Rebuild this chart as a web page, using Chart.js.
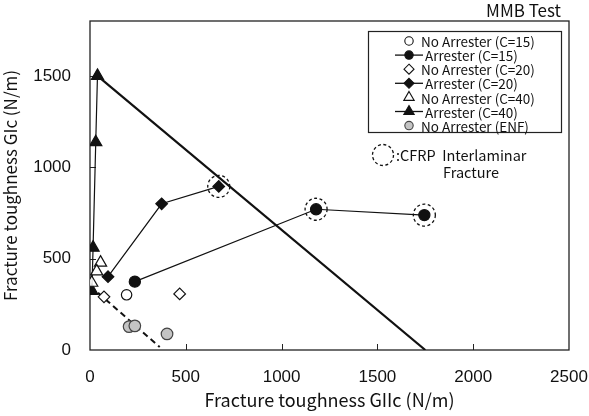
<!DOCTYPE html>
<html>
<head>
<meta charset="utf-8">
<script src="https://cdn.jsdelivr.net/npm/chart.js@4/dist/chart.umd.min.js"></script>
<style>
  html, body { margin: 0; padding: 0; background: #fff; }
  #wrap { width: 589px; height: 416px; position: relative; }
</style>
</head>
<body>
<div id="wrap"><canvas id="c" width="589" height="416"></canvas></div>
<script>
// Mode I (GIc) vs mode II (GIIc) fracture toughness, MMB tests
const noArr15X = [191];
const noArr15Y = [302];
const arr15X = [234, 1180, 1745];
const arr15Y = [374, 770, 738];
const noArr20X = [73, 468];
const noArr20Y = [291, 307];
const arr20X = [94, 374, 672];
const arr20Y = [401, 800, 895];
const noArr40X = [55, 35, 9];
const noArr40Y = [478, 430, 368];
const arr40X = [10, 16, 30, 39];
const arr40Y = [324, 560, 1137, 1500];
const enfX = [204, 234, 402];
const enfY = [128, 132, 88];
// straight criterion lines
const critX = [39, 1750];
const critY = [1500, 0];
const enfFitX = [42, 364];
const enfFitY = [313, 16];
// points that failed by CFRP interlaminar fracture
const cfrpX = [672, 1180, 1745];
const cfrpY = [895, 770, 738];

const xTicks = [0, 500, 1000, 1500, 2000, 2500];
const yTicks = [0, 500, 1000, 1500];

const pts = (xs, ys) => xs.map((x, i) => ({ x, y: ys[i] }));

const JP = '"Noto Sans CJK JP", "Noto Sans", sans-serif';
const LAT = '"Liberation Sans", Arial, sans-serif';

const series = [
  { label: 'No Arrester (C=15)', data: pts(noArr15X, noArr15Y), pointStyle: 'circle', pointRadius: 5.2, backgroundColor: '#fff', borderColor: '#111', showLine: false },
  { label: 'Arrester (C=15)', data: pts(arr15X, arr15Y), pointStyle: 'circle', pointRadius: 5.6, backgroundColor: '#111', borderColor: '#111', showLine: true },
  { label: 'No Arrester (C=20)', data: pts(noArr20X, noArr20Y), pointStyle: 'rectRot', pointRadius: 5.8, backgroundColor: '#fff', borderColor: '#111', showLine: false },
  { label: 'Arrester (C=20)', data: pts(arr20X, arr20Y), pointStyle: 'rectRot', pointRadius: 5.8, backgroundColor: '#111', borderColor: '#111', showLine: true },
  { label: 'No Arrester (C=40)', data: pts(noArr40X, noArr40Y), pointStyle: 'triangle', pointRadius: 7, backgroundColor: 'rgba(255,255,255,0.85)', borderColor: '#111', showLine: false },
  { label: 'Arrester (C=40)', data: pts(arr40X, arr40Y), pointStyle: 'triangle', pointRadius: 7, backgroundColor: '#111', borderColor: '#111', showLine: true },
  { label: 'No Arrester (ENF)', data: pts(enfX, enfY), pointStyle: 'circle', pointRadius: 5.8, backgroundColor: '#c4c4c4', borderColor: '#444', showLine: false }
];

const datasets = series.map(s => Object.assign({
  borderWidth: 1.2,
  pointBorderWidth: 1.2,
  pointBackgroundColor: s.backgroundColor,
  pointBorderColor: s.borderColor,
  pointHoverRadius: s.pointRadius,
  fill: false,
  order: 1
}, s));

datasets.push({
  label: 'crit', data: pts(critX, critY), showLine: true, pointRadius: 0,
  borderColor: '#111', borderWidth: 2.2, order: 5
});
datasets.push({
  label: 'enfFit', data: pts(enfFitX, enfFitY), showLine: true, pointRadius: 0,
  borderColor: '#111', borderWidth: 2, borderDash: [6, 4], order: 5
});

function marker(ctx, style, x, y, r, fill, stroke) {
  ctx.save();
  ctx.beginPath();
  if (style === 'circle') {
    ctx.arc(x, y, r, 0, Math.PI * 2);
  } else if (style === 'rectRot') {
    ctx.moveTo(x, y - r); ctx.lineTo(x + r, y); ctx.lineTo(x, y + r); ctx.lineTo(x - r, y);
    ctx.closePath();
  } else if (style === 'triangle') {
    const w = r * Math.sqrt(3) / 2;
    ctx.moveTo(x, y - r); ctx.lineTo(x + w, y + r / 2); ctx.lineTo(x - w, y + r / 2);
    ctx.closePath();
  }
  ctx.fillStyle = fill; ctx.fill();
  ctx.strokeStyle = stroke; ctx.lineWidth = 1.1; ctx.stroke();
  ctx.restore();
}

const decor = {
  id: 'decor',
  beforeDatasetsDraw(chart) {
    const { ctx, chartArea: a, scales } = chart;
    ctx.save();
    ctx.strokeStyle = '#222';
    ctx.lineWidth = 1.3;
    ctx.strokeRect(a.left, a.top, a.right - a.left, a.bottom - a.top);
    ctx.lineWidth = 1;
    xTicks.slice(1, -1).forEach(v => {
      const px = Math.round(scales.x.getPixelForValue(v)) + 0.5;
      ctx.beginPath(); ctx.moveTo(px, a.bottom); ctx.lineTo(px, a.bottom - 6); ctx.stroke();
    });
    yTicks.slice(1).forEach(v => {
      const py = Math.round(scales.y.getPixelForValue(v)) + 0.5;
      ctx.beginPath(); ctx.moveTo(a.left, py); ctx.lineTo(a.left + 6, py); ctx.stroke();
    });
    ctx.restore();
  },
  afterDatasetsDraw(chart) {
    const { ctx, scales } = chart;
    ctx.save();
    // dashed rings around CFRP interlaminar fracture points
    ctx.strokeStyle = '#111';
    ctx.lineWidth = 1.3;
    ctx.setLineDash([3, 2.5]);
    cfrpX.forEach((v, i) => {
      ctx.beginPath();
      ctx.arc(scales.x.getPixelForValue(v), scales.y.getPixelForValue(cfrpY[i]), 11, 0, Math.PI * 2);
      ctx.stroke();
    });
    ctx.beginPath();
    ctx.arc(383, 155, 10.5, 0, Math.PI * 2);
    ctx.stroke();
    ctx.setLineDash([]);

    ctx.fillStyle = '#111';
    ctx.textBaseline = 'middle';
    ctx.font = '14.5px ' + JP;
    ctx.textAlign = 'left';
    ctx.fillText(':CFRP  Interlaminar', 396, 155);
    ctx.textAlign = 'center';
    ctx.fillText('Fracture', 471, 172);

    // title
    ctx.font = '17px ' + JP;
    ctx.textAlign = 'right';
    ctx.fillText('MMB Test', 561, 11);

    // legend box
    const lx = 368, ly = 31, lw = 193, lh = 101;
    ctx.fillStyle = '#fff';
    ctx.fillRect(lx, ly, lw, lh);
    ctx.strokeStyle = '#222';
    ctx.lineWidth = 1.2;
    ctx.strokeRect(lx + 0.5, ly + 0.5, lw, lh);
    ctx.font = '13.5px ' + JP;
    ctx.textAlign = 'left';
    series.forEach((s, i) => {
      const y = ly + 10 + i * 14.1;
      const mx = 409;
      if (s.showLine) {
        ctx.strokeStyle = '#111';
        ctx.lineWidth = 1.3;
        ctx.beginPath(); ctx.moveTo(395, y); ctx.lineTo(423, y); ctx.stroke();
      }
      const r = s.pointStyle === 'triangle' ? 6 : (s.pointStyle === 'rectRot' ? 5 : 4.2);
      const fill = s.backgroundColor.startsWith('rgba') ? '#fff' : s.backgroundColor;
      marker(ctx, s.pointStyle, mx, y, r, fill, s.borderColor);
      ctx.fillStyle = '#111';
      ctx.fillText(s.label, s.showLine ? 425 : 421, y + 1);
    });
    ctx.restore();
  }
};

new Chart(document.getElementById('c'), {
  type: 'scatter',
  data: { datasets },
  options: {
    responsive: false,
    animation: false,
    events: [],
    layout: { padding: { top: 21, right: 20, left: 0, bottom: 0 } },
    plugins: { legend: { display: false }, tooltip: { enabled: false } },
    scales: {
      x: {
        type: 'linear', min: 0, max: 2500,
        grid: { display: false, drawTicks: false },
        border: { display: false },
        afterFit: s => { s.height = 66; s.paddingLeft = 0; s.paddingRight = 0; },
        afterBuildTicks: s => { s.ticks = xTicks.map(v => ({ value: v })); },
        ticks: { padding: 17, color: '#111', font: { family: LAT, size: 17 }, callback: v => String(v) },
        title: { display: true, text: 'Fracture toughness GIIc (N/m)', color: '#111', font: { family: JP, size: 18 }, padding: { top: 0, bottom: 5 } }
      },
      y: {
        type: 'linear', min: 0, max: 1800,
        grid: { display: false, drawTicks: false },
        border: { display: false },
        afterFit: s => { s.width = 90; s.paddingTop = 0; s.paddingBottom = 0; },
        afterBuildTicks: s => { s.ticks = yTicks.map(v => ({ value: v })); },
        ticks: { padding: 19, color: '#111', font: { family: LAT, size: 17 }, callback: v => String(v) },
        title: { display: true, text: 'Fracture toughness GIc (N/m)', color: '#111', font: { family: JP, size: 17 }, padding: { top: 0, bottom: 4 } }
      }
    }
  },
  plugins: [decor]
});
</script>
</body>
</html>
